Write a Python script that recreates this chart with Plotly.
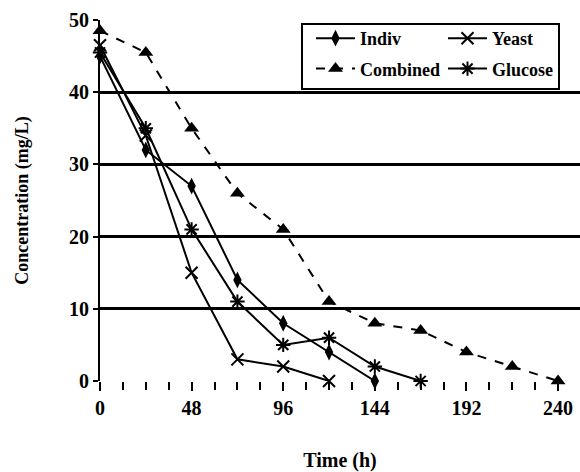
import plotly.graph_objects as go

time_indiv = [0, 24, 48, 72, 96, 120, 144]
indiv = [45, 32, 27, 14, 8, 4, 0]

time_yeast = [0, 24, 48, 72, 96, 120]
yeast = [46.5, 34, 15, 3, 2, 0]

time_combined = [0, 24, 48, 72, 96, 120, 144, 168, 192, 216, 240]
combined = [48.5, 45.5, 35, 26, 21, 11, 8, 7, 4, 2, 0]

time_glucose = [0, 24, 48, 72, 96, 120, 144, 168]
glucose = [45.5, 35, 21, 11, 5, 6, 2, 0]

x_ticks = [0, 48, 96, 144, 192, 240]
y_ticks = [0, 10, 20, 30, 40, 50]

FONT = "Liberation Serif"

fig = go.Figure()
fig.add_trace(go.Scatter(x=time_indiv, y=indiv, name="<b>Indiv</b>", mode="lines+markers",
                         legend="legend", legendgroup="a",
                         line=dict(color="black", width=2),
                         marker=dict(symbol="diamond-tall", size=12, color="black")))
fig.add_trace(go.Scatter(x=time_combined, y=combined, name="<b>Combined</b>", mode="lines+markers",
                         legend="legend", legendgroup="b",
                         line=dict(color="black", width=2, dash="dash"),
                         marker=dict(symbol="triangle-up", size=13, color="black")))
fig.add_trace(go.Scatter(x=time_yeast, y=yeast, name="<b>Yeast</b>", mode="lines+markers",
                         legend="legend2", legendgroup="c",
                         line=dict(color="black", width=2),
                         marker=dict(symbol="x-thin-open", size=12, color="black",
                                     line=dict(color="black", width=2))))
fig.add_trace(go.Scatter(x=time_glucose, y=glucose, name="<b>Glucose</b>", mode="lines+markers",
                         legend="legend2", legendgroup="d",
                         line=dict(color="black", width=2),
                         marker=dict(symbol="asterisk-open", size=12, color="black",
                                     line=dict(color="black", width=2))))

fig.update_traces(cliponaxis=False)

legend_common = dict(orientation="v", yanchor="top", xanchor="left",
                     bgcolor="rgba(0,0,0,0)", borderwidth=0,
                     font=dict(family=FONT, size=18, color="black"),
                     itemsizing="trace", traceorder="grouped", tracegroupgap=4,
                     itemwidth=39)

H = 361.0
legend_top = 1.0

fig.update_layout(
    width=580, height=472,
    margin=dict(l=100, r=0, t=20, b=91, autoexpand=False),
    paper_bgcolor="white", plot_bgcolor="white",
    font=dict(family=FONT, size=20, color="black"),
    xaxis=dict(range=[0, 251.5], tickvals=x_ticks, ticktext=[f"<b>{v}</b>" for v in x_ticks],
               showgrid=False, zeroline=False, showline=False, automargin=False,
               ticks="outside", ticklen=9, tickwidth=2, tickcolor="black",
               tickfont=dict(size=20),
               minor=dict(dtick=12, tick0=0, ticks="outside", ticklen=8, tickwidth=2, tickcolor="black", showgrid=False),
               title=dict(text="<b>Time (h)</b>", standoff=37, font=dict(size=20))),
    yaxis=dict(range=[0, 50], tickvals=y_ticks, ticktext=[f"<b>{v}</b>" for v in y_ticks],
               showgrid=True, gridcolor="black", gridwidth=2.5, zeroline=False,
               showline=True, linecolor="black", linewidth=2, automargin=False,
               ticks="outside", ticklen=5, tickwidth=2, tickcolor="black",
               tickfont=dict(size=20),
               title=dict(text="<b>Concentration (mg/L)</b>", standoff=36, font=dict(size=18))),
    legend=dict(x=(311 - 100) / 480, y=legend_top, **legend_common),
    legend2=dict(x=(443 - 100) / 480, y=legend_top, **legend_common),
    shapes=[dict(type="rect", xref="paper", yref="paper",
                 x0=(302 - 100) / 480, x1=(559 - 100) / 480,
                 y0=(381 - 89) / H, y1=(381 - 24) / H,
                 line=dict(color="black", width=2), fillcolor="white", layer="between")],
    showlegend=True,
)

fig.write_html("out.html", config={"displayModeBar": False},
               post_script="document.body.style.margin='0';")
